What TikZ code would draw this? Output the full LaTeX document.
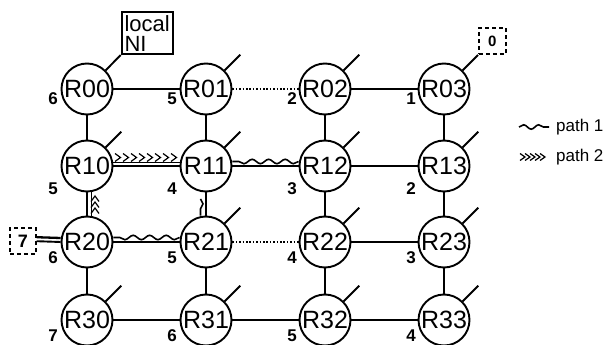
\documentclass[tikz,border=0pt]{standalone}
\usepackage{fontspec}
\setmainfont{Liberation Sans}
\usetikzlibrary{decorations.pathmorphing,calc}
\begin{document}
\begin{tikzpicture}[x=1pt,y=-1pt,
  router/.style={circle,draw,line width=1.9pt,minimum size=51pt,inner sep=0pt,font=\fontsize{25}{25}\selectfont},
  link/.style={line width=1.9pt},
  dotlink/.style={line width=1.8pt,dash pattern=on 1.6pt off 1.8pt},
  p2line/.style={line width=1.8pt},
  chev/.style={line width=1.2pt},
  port/.style={font=\fontsize{17}{17}\selectfont\bfseries,inner sep=0pt},
  wave/.style={line width=1.6pt,decorate,decoration={snake,amplitude=2.2pt,segment length=16.5pt}},
  dbox/.style={draw,line width=1.6pt,dash pattern=on 4pt off 3pt,inner sep=0pt},
  legtext/.style={font=\fontsize{17}{17}\selectfont,anchor=west,inner sep=0pt}
]
\useasboundingbox (0,0) rectangle (611,345);

% routers
\foreach \r/\yy in {0/89,1/166,2/242,3/320}{
  \foreach \c/\xx in {0/87,1/206,2/325,3/444}{
    \node[router] (R\r\c) at (\xx,\yy) {R\r\c};
  }
}

% horizontal links
\draw[link] (R00) -- (R01);
\draw[dotlink] (R01) -- (R02);
\draw[link] (R02) -- (R03);
\draw[link] (R10) -- (R11);
\draw[link] (R11) -- (R12);
\draw[link] (R12) -- (R13);
\draw[link] (R20) -- (R21);
\draw[dotlink] (R21) -- (R22);
\draw[link] (R22) -- (R23);
\draw[link] (R30) -- (R31);
\draw[link] (R31) -- (R32);
\draw[link] (R32) -- (R33);
% vertical links
\foreach \c in {0,1,2,3}{
  \draw[link] (R0\c) -- (R1\c);
  \draw[link] (R1\c) -- (R2\c);
  \draw[link] (R2\c) -- (R3\c);
}

% local ports
\foreach \n in {R01,R02,R10,R11,R12,R13,R21,R22,R23,R30,R31,R32,R33}{
  \coordinate (\n-s) at ([shift={(45:22pt)}]\n.45);
  \draw[link] (\n.45) -- (\n-s);
}
\node[draw,line width=1.9pt,minimum width=51pt,minimum height=42pt,inner sep=2pt,
  align=left,anchor=south west,font=\fontsize{22}{20}\selectfont] (NI) at (120.7,55) {local\\NI};
\draw[link] (R00.45) -- (NI.south west);
\node[dbox,minimum width=27pt,minimum height=26pt,anchor=south west,
  font=\fontsize{15}{15}\selectfont\bfseries] (B0) at (478,55) {0};
\draw[link] (R03.45) -- (B0.south west);
\node[dbox,minimum width=26pt,minimum height=26pt,anchor=south west,
  font=\fontsize{18}{18}\selectfont\bfseries] (B7) at (9,255) {7};
\draw[link] (B7.east) -- (R20.west);

% path 2
\draw[p2line,line width=2.3pt] ([yshift=4pt]B7.east) -- ([yshift=4pt]R20.west);
\draw[p2line] ([xshift=4.5pt]R20.north) -- ([xshift=4.5pt]R10.south);
\foreach \t in {196,202,208}{
  \draw[chev] (91,\t+5.5) -- (95,\t) -- (99,\t+5.5);
}
\draw[p2line] ([yshift=3.5pt]R10.east) -- ([yshift=3.5pt]R11.west);
\foreach \i in {0,...,7}{
  \draw[chev] ({115+\i*8},153.5) -- ({120.5+\i*8},157.5) -- ({115+\i*8},161.5);
}

% path 1
\draw[wave] ([yshift=4.5pt]R12.west) -- ([yshift=4.5pt]R11.east);
\draw[wave,decoration={segment length=16pt,amplitude=2.5pt}] ([xshift=-5.5pt]$(R11.south)!0.28!(R21.north)$) -- ([xshift=-5.5pt]R21.north);
\draw[wave] ([yshift=4.5pt]R21.west) -- ([yshift=4.5pt]R20.east);

% port numbers
\foreach \c/\xx/\a/\b/\cc/\d in {0/53/6/5/6/7,1/172/5/4/5/6,2/292/2/3/4/5,3/411/1/2/3/4}{
  \node[port] (pa\c) at (\xx,99) {\a};
  \node[port] (pb\c) at (\xx,189) {\b};
  \node[port] (pc\c) at (\xx,258) {\cc};
  \node[port] (pd\c) at (\xx,336) {\d};
}

% legend
\coordinate (l1a) at (519,127);
\coordinate (l1b) at (549,127);
\draw[wave,decoration={segment length=15pt}] (l1a) -- (l1b);
\node[legtext] (leg1) at (556,127) {path 1};
\foreach \i in {0,...,4}{
  \draw[chev] ({520+\i*5},153.5) -- ({525+\i*5},157) -- ({520+\i*5},160.5);
}
\node[legtext] (leg2) at (556,157) {path 2};
\end{tikzpicture}
\end{document}
